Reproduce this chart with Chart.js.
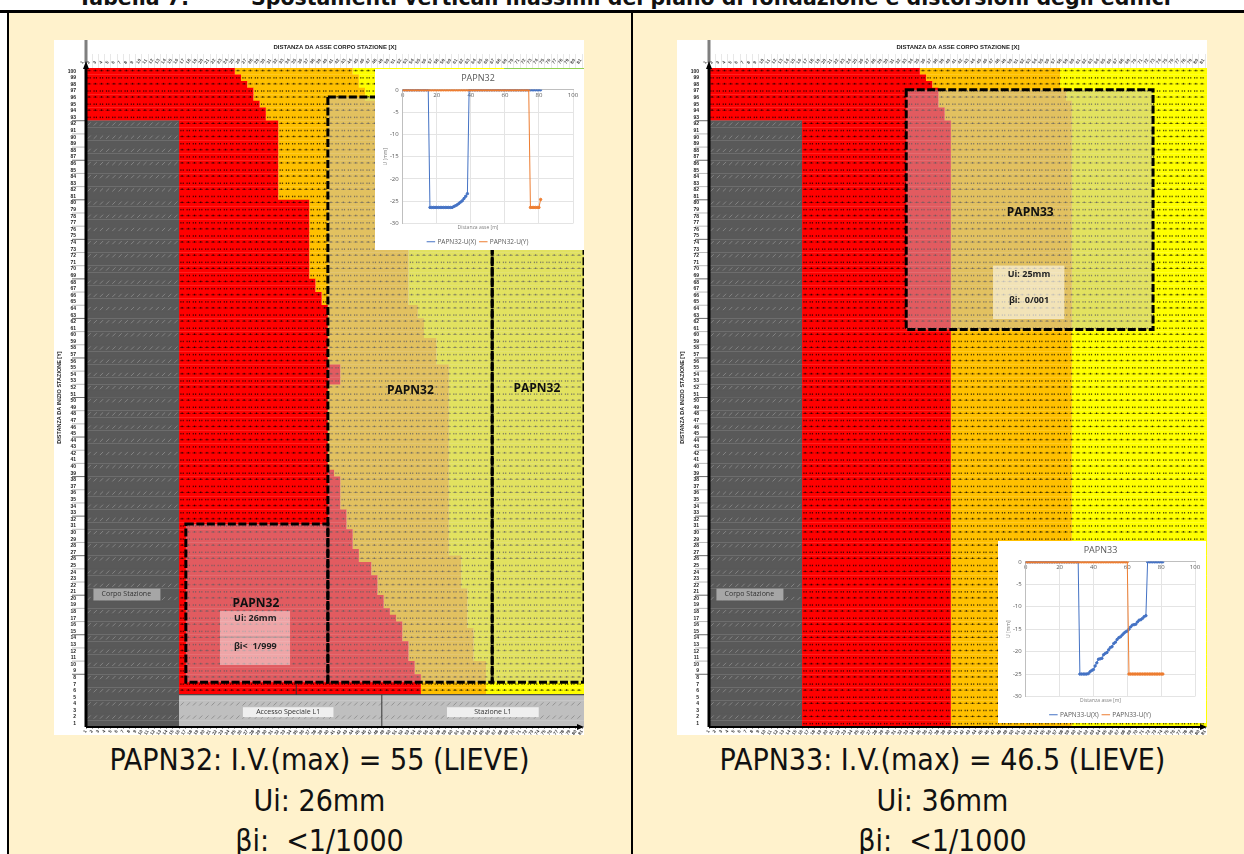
<!DOCTYPE html>
<html lang="it">
<head>
<meta charset="utf-8">
<title>Tabella 7</title>
<script src="https://cdn.jsdelivr.net/npm/chart.js@4"></script>
<style>
  html, body { margin: 0; padding: 0; background: #fff; overflow: hidden; }
  #page { position: relative; width: 1244px; height: 854px; overflow: hidden; }
  #sheet { position: absolute; left: 8px; top: 12px; width: 1236px; height: 842px; background: #fff2cc; }
  .rule { position: absolute; background: #000; }
  .head { position: absolute; top: -14px; font: bold 20.5px "DejaVu Sans", sans-serif; white-space: nowrap; color: #111; }
  .cap { position: absolute; width: 623px; text-align: center; font: 30px "DejaVu Sans Condensed", "DejaVu Sans", sans-serif; color: #111; white-space: pre; }
  canvas { position: absolute; background: #fff; }
  .map { filter: blur(.45px); }
  .inset { filter: blur(.4px); }
</style>
</head>
<body>
<div id="page">
  <div class="head" style="left:78px">Tabella 7:</div>
  <div class="head" style="left:251px">Spostamenti verticali massimi del piano di fondazione e distorsioni degli edifici</div>
  <div id="sheet"></div>
  <div class="rule" style="left:0;top:10px;width:1244px;height:2.5px"></div>
  <div class="rule" style="left:7px;top:10px;width:2px;height:844px"></div>
  <div class="rule" style="left:630.5px;top:10px;width:2px;height:844px"></div>

  <canvas class="map" id="map32" width="530" height="695" style="left:54px;top:40px"></canvas>
  <canvas class="map" id="map33" width="530" height="695" style="left:677px;top:40px"></canvas>
  <canvas class="inset" id="inset32" width="209" height="181" style="left:375px;top:69px"></canvas>
  <canvas class="inset" id="inset33" width="208" height="182" style="left:998px;top:541px"></canvas>

  <div class="cap" style="left:8px;top:742px">PAPN32: I.V.(max) = 55 (LIEVE)</div>
  <div class="cap" style="left:8px;top:783px">Ui: 26mm</div>
  <div class="cap" style="left:8px;top:823px">βi:  &lt;1/1000</div>
  <div class="cap" style="left:631px;top:742px">PAPN33: I.V.(max) = 46.5 (LIEVE)</div>
  <div class="cap" style="left:631px;top:783px">Ui: 36mm</div>
  <div class="cap" style="left:631px;top:823px">βi:  &lt;1/1000</div>
</div>

<script>
// righe della mappa, dall'alto (100) al basso (1)
const rowLabels = [
  100,99,98,97,96,95,94,93,92,91,90,89,88,87,86,85,84,83,82,81,
  80,79,78,77,76,75,74,73,72,71,70,69,68,67,66,65,64,63,62,61,
  60,59,58,57,56,55,54,53,52,51,50,49,48,47,46,45,44,43,42,41,
  40,39,38,37,36,35,34,33,32,31,30,29,28,27,26,25,24,23,22,21,
  20,19,18,17,16,15,14,13,12,11,10,9,8,7,6,5,4,3,2,1];

// --- PAPN32: fine di ogni fascia di colore per riga, in colonne ---
const grey32 = [
  0,0,0,0,0,0,0,0,15,15,15,15,15,15,15,15,15,15,15,15,
  15,15,15,15,15,15,15,15,15,15,15,15,15,15,15,15,15,15,15,15,
  15,15,15,15,15,15,15,15,15,15,15,15,15,15,15,15,15,15,15,15,
  15,15,15,15,15,15,15,15,15,15,15,15,15,15,15,15,15,15,15,15,
  15,15,15,15,15,15,15,15,15,15,15,15,15,15,15,15,15,15,15,15];
const red32 = [
  24,25,26,27,27,28,29,29,31,31,31,31,31,31,31,31,31,31,31,31,
  36,36,36,36,36,36,36,36,36,36,36,36,37,37,38,38,39,39,39,39,
  39,39,39,39,39,41,41,41,39,39,39,39,39,39,39,39,39,39,39,39,
  39,40,41,41,41,41,41,42,42,42,43,43,43,44,44,46,46,47,47,47,
  48,48,49,50,51,51,51,52,52,52,53,53,54,54,54,15,15,15,15,15];
const orange32 = [
  43,44,44,45,45,47,47,47,52,52,52,52,52,52,52,52,52,52,52,52,
  52,52,52,52,52,52,52,52,52,52,52,52,52,52,52,52,53.5,53.5,54.5,54.5,
  54.5,56.5,56.5,56.5,56.5,58.5,58.5,58.5,58.5,58.5,58.5,58.5,58.5,58.5,58.5,58.5,58.5,58.5,58.5,58.5,
  58.5,58.5,58.5,58.5,58.5,58.5,58.5,58.5,58.5,58.5,58.5,58.5,58.5,58.5,60.5,60.5,60.5,60.5,60.5,61.5,
  61.5,61.5,61.5,61.5,61.5,62.5,62.5,62.5,62.5,62.5,64.5,64.5,64.5,64.5,64.5,15,15,15,15,15];
const yellow32 = [
  67.4,80.3,80.3,80.3,80.3,80.3,80.3,80.3,80.3,80.3,80.3,80.3,80.3,80.3,80.3,80.3,80.3,80.3,80.3,80.3,
  80.3,80.3,80.3,80.3,80.3,80.3,80.3,80.3,80.3,80.3,80.3,80.3,80.3,80.3,80.3,80.3,80.3,80.3,80.3,80.3,
  80.3,80.3,80.3,80.3,80.3,80.3,80.3,80.3,80.3,80.3,80.3,80.3,80.3,80.3,80.3,80.3,80.3,80.3,80.3,80.3,
  80.3,80.3,80.3,80.3,80.3,80.3,80.3,80.3,80.3,80.3,80.3,80.3,80.3,80.3,80.3,80.3,80.3,80.3,80.3,80.3,
  80.3,80.3,80.3,80.3,80.3,80.3,80.3,80.3,80.3,80.3,80.3,80.3,80.3,80.3,80.3,15,15,15,15,15];
// ultime cinque righe: fascia grigia chiara (accesso / stazione)
const band32 = [
  0,0,0,0,0,0,0,0,0,0,0,0,0,0,0,0,0,0,0,0,
  0,0,0,0,0,0,0,0,0,0,0,0,0,0,0,0,0,0,0,0,
  0,0,0,0,0,0,0,0,0,0,0,0,0,0,0,0,0,0,0,0,
  0,0,0,0,0,0,0,0,0,0,0,0,0,0,0,0,0,0,0,0,
  0,0,0,0,0,0,0,0,0,0,0,0,0,0,0,80.3,80.3,80.3,80.3,80.3];

// --- PAPN33 ---
const grey33 = grey32.slice();
const red33 = [
  34,35,36,37,37,37,38,38,39,39,39,39,39,39,39,39,39,39,39,39,
  39,39,39,39,39,39,39,39,39,39,39,39,39,39,39,39,39,39,39,39,
  39,39,39,39,39,39,39,39,39,39,39,39,39,39,39,39,39,39,39,39,
  39,39,39,39,39,39,39,39,39,39,39,39,39,39,39,39,39,39,39,39,
  39,39,39,39,39,39,39,39,39,39,39,39,39,39,39,39,39,39,39,39];
const orange33 = [
  56.6,56.6,56.6,57.6,57.6,58.5,58.5,58.5,58.5,58.5,58.5,58.5,58.5,58.5,58.5,58.5,58.5,58.5,58.5,58.5,
  58.5,58.5,58.5,58.5,58.5,58.5,58.5,58.5,58.5,58.5,58.5,58.5,58.5,58.5,58.5,58.5,58.5,58.5,58.5,58.5,
  58.5,58.5,58.5,58.5,58.5,58.5,58.5,58.5,58.5,58.5,58.5,58.5,58.5,58.5,58.5,58.5,58.5,58.5,58.5,58.5,
  58.5,58.5,58.5,58.5,58.5,58.5,58.5,58.5,58.5,58.5,58.5,58.5,58.5,58.5,58.5,58.5,58.5,58.5,58.5,58.5,
  58.5,58.5,58.5,58.5,58.5,58.5,58.5,58.5,58.5,58.5,58.5,58.5,58.5,58.5,58.5,58.5,58.5,58.5,58.5,58.5];
const yellow33 = [
  80.3,80.3,80.3,80.3,80.3,80.3,80.3,80.3,80.3,80.3,80.3,80.3,80.3,80.3,80.3,80.3,80.3,80.3,80.3,80.3,
  80.3,80.3,80.3,80.3,80.3,80.3,80.3,80.3,80.3,80.3,80.3,80.3,80.3,80.3,80.3,80.3,80.3,80.3,80.3,80.3,
  80.3,80.3,80.3,80.3,80.3,80.3,80.3,80.3,80.3,80.3,80.3,80.3,80.3,80.3,80.3,80.3,80.3,80.3,80.3,80.3,
  80.3,80.3,80.3,80.3,80.3,80.3,80.3,80.3,80.3,80.3,80.3,80.3,80.3,80.3,80.3,80.3,80.3,80.3,80.3,80.3,
  80.3,80.3,80.3,80.3,80.3,80.3,80.3,80.3,80.3,80.3,80.3,80.3,80.3,80.3,80.3,80.3,80.3,80.3,80.3,80.3];
const band33 = [];

// --- grafici dei cedimenti ---
const distanzaM = [
  0,1,2,3,4,5,6,7,8,9,10,11,12,13,14,15,16,17,18,19,20,21,22,23,24,25,26,27,28,29,30,31,32,33,34,35,36,37,38,39,40,
  41,42,43,44,45,46,47,48,49,50,51,52,53,54,55,56,57,58,59,60,61,62,63,64,65,66,67,68,69,70,71,72,73,74,75,76,77,78,79,80,81];
const ux32 = [
  0,0,0,0,0,0,0,0,0,0,0,0,0,0,0,0,
  -26.4,-26.4,-26.4,-26.4,-26.4,-26.4,-26.4,-26.4,-26.4,-26.4,-26.4,-26.4,-26.4,-26.4,
  -26.2,-26,-25.8,-25.5,-25.2,-24.9,-24.4,-23.9,-23.3,
  0,0,0,0,0,0,0,0,0,0,0,0,0,0,0,0,0,0,0,0,0,0,0,0,0,0,0,0,0,0,0,0,0,0,0,0,0,0,0,0,0,0,0];
const uy32 = [
  0,0,0,0,0,0,0,0,0,0,0,0,0,0,0,0,0,0,0,0,0,0,0,0,0,
  0,0,0,0,0,0,0,0,0,0,0,0,0,0,0,0,0,0,0,0,0,0,0,0,0,
  0,0,0,0,0,0,0,0,0,0,0,0,0,0,0,0,0,0,0,0,0,0,0,0,0,
  -26.4,-26.4,-26.4,-26.4,-26.4,-26.4,-24.6];
const ux33 = [
  0,0,0,0,0,0,0,0,0,0,0,0,0,0,0,0,0,0,0,0,0,0,0,0,0,0,0,0,0,0,0,0,
  -25,-25,-25,-25,-25,
  -24.9,-24.5,-24.2,-24,-23.2,-22.5,-21.7,-21.6,-21.5,-20.7,-20.4,-20.2,-19.6,-19.1,-18.9,-18.2,-17.9,-17.3,
  -16.9,-16.7,-16.3,-15.9,-15.6,-15.4,-15,-14.5,-14.1,-14,-13.9,-13.4,-13,-12.9,-12.6,-12.2,-12,
  0,0,0,0,0,0,0,0,0,0];
const uy33 = [
  0,0,0,0,0,0,0,0,0,0,0,0,0,0,0,0,0,0,0,0,0,0,0,0,0,0,0,0,0,0,
  0,0,0,0,0,0,0,0,0,0,0,0,0,0,0,0,0,0,0,0,0,0,0,0,0,0,0,0,0,0,0,
  -25,-25,-25,-25,-25,-25,-25,-25,-25,-25,-25,-25,-25,-25,-25,-25,-25,-25,-25,-25,-25];

const COLS = 80.3;
const UI_FONT = '"Open Sans", "Liberation Sans", sans-serif';

// riga continua -> pixel, sulla scala a categorie
function rowPixel(chart, t) {
  return chart.scales.y.getPixelForValue(t - 0.5);
}

// i testi ruotati non devono restringere l'area del grafico
function noMargins(s) {
  s.paddingLeft = 0;
  s.paddingRight = 0;
  s.paddingTop = 0;
  s.paddingBottom = 0;
}

// marchi minuscoli delle celle, le cifre dell'originale non si leggono
const cellMarks = {
  id: "cellMarks",
  afterDatasetsDraw(chart, args, opts) {
    const { ctx } = chart;
    const x = chart.scales.x;
    ctx.save();
    for (let t = 0; t < 100; t++) {
      const py = rowPixel(chart, t + 0.5);
      for (let c = 0; c < 80; c++) {
        const px = x.getPixelForValue(c + 0.5);
        const inBand = opts.band[t] > 0 && c >= 15;
        if (c < opts.grey[t] || inBand) {
          if (t % 2 === 0) {
            ctx.strokeStyle = inBand ? "rgba(110,110,110,.8)" : "rgba(170,170,170,.75)";
            ctx.lineWidth = 0.7;
            ctx.beginPath();
            ctx.moveTo(px - 1.6, py + 1.6);
            ctx.lineTo(px + 1.6, py - 1.6);
            ctx.stroke();
          }
        } else if (t % 2 === 0) {
          ctx.fillStyle = "rgba(0,0,0,.45)";
          ctx.fillRect(px - 2.2, py - 1, 4.4, 0.9);
          ctx.fillStyle = "rgba(0,0,0,.7)";
          ctx.fillRect(px - 0.6, py - 1.6, 1.2, 1.6);
        } else {
          ctx.fillStyle = "rgba(0,0,0,.7)";
          ctx.fillRect(px - 1.8, py - 0.8, 1.2, 1.5);
          ctx.fillRect(px + 0.5, py - 0.8, 1.2, 1.5);
        }
      }
    }
    ctx.restore();
  },
};

// zone tratteggiate, assi con frecce, etichette sopra la mappa
const mapNotes = {
  id: "mapNotes",
  afterDatasetsDraw(chart, args, opts) {
    const { ctx, chartArea: a } = chart;
    const x = (v) => chart.scales.x.getPixelForValue(v);
    const y = (v) => rowPixel(chart, v);
    ctx.save();

    // velatura delle zone
    ctx.fillStyle = "rgba(194,194,205,.47)";
    opts.zones.forEach(([x1, x2, t1, t2]) => ctx.fillRect(x(x1), y(t1), x(x2) - x(x1), y(t2) - y(t1)));

    // righe sottili della fascia bassa
    ctx.strokeStyle = "#333";
    ctx.lineWidth = 1;
    opts.thin.forEach(([x1, t1, x2, t2]) => {
      ctx.beginPath();
      ctx.moveTo(x(x1), y(t1));
      ctx.lineTo(x(x2), y(t2));
      ctx.stroke();
    });

    ctx.strokeStyle = "#000";
    ctx.lineWidth = 3;
    ctx.setLineDash([8, 2.5]);
    opts.zones.forEach(([x1, x2, t1, t2]) => ctx.strokeRect(x(x1), y(t1), x(x2) - x(x1), y(t2) - y(t1)));
    ctx.setLineDash([]);

    // riquadri bianchi
    opts.boxes.forEach(([x1, x2, t1, t2, fill]) => {
      ctx.fillStyle = fill;
      ctx.fillRect(x(x1), y(t1), x(x2) - x(x1), y(t2) - y(t1));
    });
    ctx.textBaseline = "middle";
    ctx.textAlign = "center";
    opts.labels.forEach(([text, cx, t, font, color]) => {
      ctx.font = font;
      ctx.fillStyle = color;
      ctx.fillText(text, x(cx), y(t));
    });

    // asse y: tacche, parte grigia sopra la mappa, freccia
    ctx.lineWidth = 0.8;
    for (let t = 8; t < 94; t += 2) {
      ctx.strokeStyle = t % 6 === 2 ? "#444" : "#aaa";
      ctx.beginPath();
      ctx.moveTo(a.left - 14, y(t));
      ctx.lineTo(a.left, y(t));
      ctx.stroke();
    }
    ctx.fillStyle = "#7f7f7f";
    ctx.fillRect(a.left - 1.5, 0, 3, a.top - 5);
    ctx.fillStyle = "#000";
    ctx.fillRect(a.left - 1.5, a.top, 3, a.bottom - a.top);
    ctx.beginPath();
    ctx.moveTo(a.left, a.top - 7);
    ctx.lineTo(a.left - 3, a.top + 1);
    ctx.lineTo(a.left + 3, a.top + 1);
    ctx.fill();

    // asse x con freccia
    ctx.fillRect(a.left, a.bottom - 1, a.right - a.left - 2, 2);
    ctx.beginPath();
    ctx.moveTo(a.right, a.bottom);
    ctx.lineTo(a.right - 7, a.bottom - 3);
    ctx.lineTo(a.right - 7, a.bottom + 3);
    ctx.fill();
    ctx.restore();
  },
};

function drawMap(id, grey, red, orange, yellow, band, notes) {
  const bar = (color, starts, ends) => ({
    data: ends.map((e, i) => [starts[i], e]),
    backgroundColor: color,
    borderWidth: 0,
    grouped: false,
    barPercentage: 1.04,
    categoryPercentage: 1,
  });
  const tickFont = { family: '"Liberation Sans", sans-serif', size: 4.5, weight: "bold" };
  const xTicks = {
    font: tickFont, color: "#333", autoSkip: false, stepSize: 1, includeBounds: false,
    minRotation: 55, maxRotation: 55, padding: 0,
    callback: (v) => (Number.isInteger(v) ? v + 1 : ""),
  };
  new Chart(document.getElementById(id), {
    type: "bar",
    data: {
      labels: rowLabels,
      datasets: [
        bar("#595959", grey.map(() => 0), grey),
        bar("#ff0000", grey, red),
        bar("#ffc000", red, orange),
        bar("#ffff00", orange, yellow),
        bar("#92d050", yellow, yellow.map((e, i) => (i === 0 ? COLS : e))),
        bar("#bfbfbf", yellow.map(() => 15), yellow.map((e, i) => (band[i] > 0 ? band[i] : 15))),
      ],
    },
    options: {
      indexAxis: "y",
      responsive: false,
      animation: false,
      layout: { padding: 0 },
      plugins: {
        legend: { display: false },
        tooltip: { enabled: false },
        cellMarks: { grey, band },
        mapNotes: notes,
      },
      scales: {
        x: {
          type: "linear", position: "bottom", min: 0, max: COLS,
          grid: { drawOnChartArea: false, tickLength: 2, color: "#555", lineWidth: 0.6 },
          border: { display: false },
          ticks: xTicks,
          afterFit: (s) => { s.height = 8; noMargins(s); },
        },
        xTop: {
          type: "linear", axis: "x", position: "top", min: 0, max: COLS,
          grid: { drawOnChartArea: false, tickLength: 14, color: "#e2e2e2", lineWidth: 0.8 },
          border: { display: false },
          ticks: { ...xTicks, padding: -11, color: "#444" },
          title: {
            display: true, text: "DISTANZA DA ASSE CORPO STAZIONE [X]", color: "#222",
            font: { family: '"Liberation Sans", sans-serif', size: 6, weight: "bold" }, padding: { top: 4, bottom: 0 },
          },
          afterFit: (s) => { s.height = 28; noMargins(s); },
        },
        y: {
          type: "category", position: "left", offset: true,
          grid: { display: false },
          border: { display: false },
          ticks: { font: { ...tickFont, size: 5 }, color: "#222", autoSkip: false, padding: 2 },
          title: {
            display: true, text: "DISTANZA DA INIZIO STAZIONE [Y]", color: "#222",
            font: { family: '"Liberation Sans", sans-serif', size: 5.5, weight: "bold" }, padding: { top: 2, bottom: 0 },
          },
          afterFit: (s) => { s.width = 32; noMargins(s); },
        },
      },
    },
    plugins: [cellMarks, mapNotes],
  });
}

function drawInset(id, title, xs, ux, uy) {
  const series = (label, color, values, order) => ({
    label,
    data: xs.map((x, i) => ({ x, y: values[i] })),
    showLine: true,
    borderColor: color,
    backgroundColor: color,
    borderWidth: 1,
    pointRadius: 1.2,
    pointBorderWidth: 1,
    pointStyle: "circle",
    order,
  });
  const tick = { family: UI_FONT, size: 6 };
  new Chart(document.getElementById(id), {
    type: "scatter",
    data: {
      datasets: [
        series(title + "-U(X)", "#4472c4", ux, 2),
        series(title + "-U(Y)", "#ed7d31", uy, 1),
      ],
    },
    options: {
      responsive: false,
      animation: false,
      layout: { padding: { left: 8, right: 11, bottom: -5 } },
      plugins: {
        tooltip: { enabled: false },
        title: { display: true, text: title, color: "#595959", font: { family: UI_FONT, size: 9, weight: "normal" }, padding: { top: 4, bottom: 6 } },
        subtitle: { display: true, position: "bottom", weight: 500, text: "Distanza asse [m]", color: "#7f7f7f", font: { family: UI_FONT, size: 5 }, padding: { top: 1, bottom: 4 } },
        legend: {
          position: "bottom",
          labels: {
            color: "#595959", font: { family: UI_FONT, size: 6.5 }, usePointStyle: true, pointStyle: "line", boxWidth: 12, boxHeight: 6, padding: 4,
            sort: (a, b) => a.datasetIndex - b.datasetIndex,
          },
        },
      },
      scales: {
        x: {
          type: "linear", min: 0, max: 100, position: { y: 0 },
          grid: { color: "#e4e4e4", drawTicks: false },
          border: { color: "#bfbfbf" },
          ticks: { stepSize: 20, color: "#595959", font: tick, padding: 2, maxRotation: 0 },
        },
        y: {
          type: "linear", min: -30, max: 0,
          grid: { color: "#e4e4e4", drawTicks: false },
          border: { color: "#bfbfbf" },
          ticks: { stepSize: 5, color: "#595959", font: tick, padding: 4 },
          title: { display: true, text: "U [mm]", color: "#7f7f7f", font: { family: UI_FONT, size: 5 }, padding: 0 },
          afterFit: (s) => { s.width = 19.7; },
        },
      },
    },
  });
}

const noteFont = "bold 9px " + UI_FONT;
const bigFont = "bold 12px " + UI_FONT;
const bandFont = "7px " + UI_FONT;
const corpoLabel = ["Corpo Stazione", 6.5, 79.8, bandFont, "#333"];
const corpoBox = [1.2, 12, 79, 80.8, "#a6a6a6"];

drawMap("map32", grey32, red32, orange32, yellow32, band32, {
  zones: [[16.1, 39, 69.2, 93.2], [39, 65.5, 4.4, 93.2], [65.5, 80.3, 4.4, 93.2]],
  thin: [[33.9, 93.2, 33.9, 95.1], [47.7, 95.1, 47.7, 100], [15, 95.1, 80.3, 95.1]],
  boxes: [
    corpoBox,
    [21.6, 32.9, 82.4, 90.6, "rgba(255,255,255,.45)"],
    [21.6, 32.9, 86.3, 86.4, "rgba(130,130,130,.8)"],
    [25.3, 39.9, 97, 98.5, "#efefef"],
    [58.2, 73, 97, 98.5, "#efefef"],
  ],
  labels: [
    corpoLabel,
    ["Accesso Speciale L1", 32.6, 97.7, bandFont, "#333"],
    ["Stazione L1", 65.6, 97.7, bandFont, "#333"],
    ["PAPN32", 52.3, 48.9, bigFont, "#111"],
    ["PAPN32", 72.7, 48.7, bigFont, "#111"],
    ["PAPN32", 27.4, 81.2, bigFont, "#111"],
    ["Ui: 26mm", 27.3, 83.6, noteFont, "#222"],
    ["βi<  1/999", 27.3, 87.7, noteFont, "#222"],
  ],
});

drawMap("map33", grey33, red33, orange33, yellow33, band33, {
  zones: [[31.8, 71.6, 3.3, 39.7]],
  thin: [],
  boxes: [
    corpoBox,
    [45.8, 57.3, 30, 38.1, "rgba(255,255,255,.55)"],
  ],
  labels: [
    corpoLabel,
    ["PAPN33", 51.8, 21.9, bigFont, "#111"],
    ["Ui: 25mm", 51.6, 31.3, noteFont, "#222"],
    ["βi:  0/001", 51.6, 35.2, noteFont, "#222"],
  ],
});

drawInset("inset32", "PAPN32", distanzaM, ux32, uy32);
drawInset("inset33", "PAPN33", distanzaM, ux33, uy33);
</script>
</body>
</html>
